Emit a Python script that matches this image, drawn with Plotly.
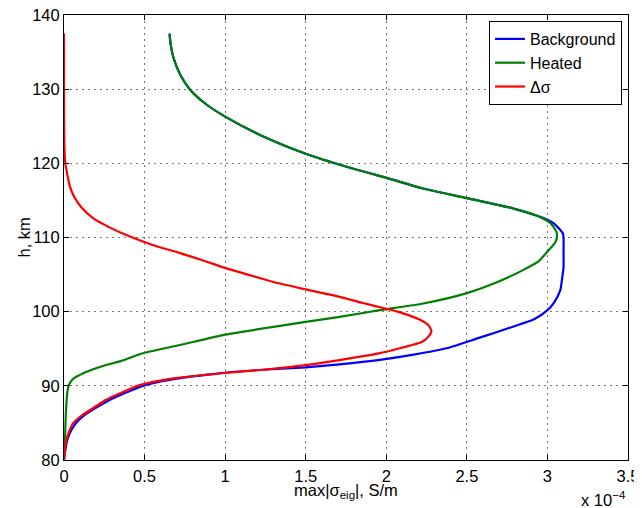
import plotly.graph_objects as go

# Heights (km) and conductivities (units of 1e-4 S/m)
h_bg = [80.0, 81.0, 82.0, 83.0, 84.0, 85.0, 86.0, 87.0, 88.0, 89.0, 90.0, 90.5, 91.0, 91.5, 91.8,
        92.2, 92.5, 92.9, 93.5, 94.2, 95.1, 96.5, 98.0, 99.0, 100.2, 101.2, 102.9, 104.3, 106.0,
        108.0, 110.0, 110.6, 111.0, 111.9, 112.4, 112.9, 113.9, 115.3, 116.6, 117.8, 119.5,
        121.3, 123.8, 126.3, 128.0, 130.0, 132.0, 134.2, 136.0, 137.5]
sig_bg = [0.0, 0.006, 0.013, 0.025, 0.045, 0.075, 0.125, 0.195, 0.275, 0.375, 0.49, 0.58, 0.71, 0.89, 1.01,
          1.26, 1.50, 1.71, 1.96, 2.17, 2.38, 2.58, 2.79, 2.92, 3.00, 3.04, 3.08, 3.09, 3.10,
          3.10, 3.10, 3.095, 3.08, 3.04, 3.00, 2.94, 2.79, 2.50, 2.23, 2.04, 1.76,
          1.50, 1.22, 1.00, 0.88, 0.78, 0.72, 0.68, 0.662, 0.655]

h_ht = [80.0, 82.0, 84.0, 86.0, 88.0, 89.0, 89.9, 90.5, 91.0, 91.7, 92.3, 92.8, 93.4, 94.4, 95.5, 96.9,
        98.65, 99.3, 100.2, 101.1, 102.5, 104.0, 105.4, 106.7, 108.1, 109.4, 110.4, 111.0, 111.9,
        112.9, 113.9, 115.3, 116.6, 117.8, 119.5, 121.3, 123.8, 126.3, 128.0, 130.0, 132.0,
        134.2, 136.0, 137.5]
sig_ht = [0.0, 0.005, 0.008, 0.011, 0.016, 0.02, 0.027, 0.04, 0.06, 0.12, 0.19, 0.26, 0.36, 0.49, 0.72, 1.00,
          1.51, 1.71, 1.96, 2.23, 2.50, 2.69, 2.83, 2.94, 3.00, 3.05, 3.06, 3.05, 3.02,
          2.94, 2.79, 2.50, 2.23, 2.04, 1.76, 1.50, 1.22, 1.00, 0.88, 0.78, 0.72,
          0.68, 0.662, 0.655]

h_d = [80.0, 81.4, 83.1, 84.0, 85.0, 86.0, 87.0, 88.1, 89.0, 90.1, 91.0, 91.7, 92.2, 92.8, 93.5,
       94.4, 95.1, 95.9, 96.6, 97.4, 98.2, 98.9, 100.0, 100.5, 101.2, 102.0, 103.0, 104.0, 105.0,
       105.9, 107.0, 107.9, 109.0, 110.3, 111.5, 112.6, 114.0, 115.7, 117.0, 118.0, 120.0,
       122.0, 125.0, 130.0, 137.5]
sig_d = [0.0, 0.005, 0.02, 0.035, 0.058, 0.11, 0.18, 0.26, 0.35, 0.47, 0.68, 0.98, 1.25, 1.50, 1.72,
         1.96, 2.09, 2.22, 2.26, 2.28, 2.26, 2.21, 2.07, 1.98, 1.85, 1.71, 1.50, 1.30, 1.14,
         1.00, 0.85, 0.72, 0.55, 0.39, 0.27, 0.18, 0.11, 0.058, 0.035, 0.025, 0.008,
         0.003, 0.001, 0.0, 0.0]

x_tickvals = [0, 0.5, 1, 1.5, 2, 2.5, 3, 3.5]
x_ticktext = ["0", "0.5", "1", "1.5", "2", "2.5", "3", "3.5"]
y_tickvals = [80, 90, 100, 110, 120, 130, 140]

FONT = "Liberation Sans, Arial, Helvetica, sans-serif"

fig = go.Figure()
fig.add_trace(go.Scatter(x=sig_bg, y=h_bg, mode="lines", name="Background",
                         line=dict(color="#0000FF", width=2.2, shape="spline", smoothing=0.6)))
fig.add_trace(go.Scatter(x=sig_ht, y=h_ht, mode="lines", name="Heated",
                         line=dict(color="#008000", width=2.2, shape="spline", smoothing=0.6)))
fig.add_trace(go.Scatter(x=sig_d, y=h_d, mode="lines", name="Δσ",
                         line=dict(color="#FF0000", width=2.2, shape="spline", smoothing=0.6)))

axis_common = dict(showline=True, linecolor="black", linewidth=1, mirror="ticks",
                   ticks="inside", ticklen=5, tickcolor="black", automargin=False,
                   ticklabeloverflow="allow",
                   showgrid=True, gridcolor="#777777", gridwidth=1, griddash="2px,4px",
                   zeroline=False, tickfont=dict(family=FONT, size=16.5, color="black"))

fig.update_layout(
    template="none",
    autosize=False,
    width=642, height=508,
    # page is shown with an 8px body offset; margins compensate for it
    margin=dict(l=56, r=22, t=7, b=56, pad=0),
    paper_bgcolor="white", plot_bgcolor="white",
    font=dict(family=FONT, size=16.5, color="black"),
    xaxis=dict(range=[0, 3.5], tickvals=x_tickvals, ticktext=x_ticktext,
               ticklabelstandoff=1, **axis_common),
    yaxis=dict(range=[80, 140], tickvals=y_tickvals, **axis_common),
    legend=dict(x=0.9894, y=0.9865, xanchor="right", yanchor="top",
                bgcolor="white", bordercolor="black", borderwidth=1,
                font=dict(family=FONT, size=16, color="black"),
                tracegroupgap=0, itemwidth=30),
    showlegend=True,
    annotations=[
        dict(text="max|σ<sub>eig</sub>|, S/m", xref="paper", yref="paper",
             x=0.5, y=(460 - 478.5) / 445, xanchor="center", yanchor="top",
             showarrow=False, font=dict(family=FONT, size=16.5)),
        dict(text="h, km", xref="paper", yref="paper", textangle=-90,
             x=(23 - 64) / 564, y=0.5, xanchor="center", yanchor="middle",
             showarrow=False, font=dict(family=FONT, size=16.5)),
        dict(text="x 10<sup>−4</sup>", xref="paper", yref="paper",
             x=1.0, y=(460 - 487) / 445, xanchor="right", yanchor="top",
             showarrow=False, font=dict(family=FONT, size=16.5)),
    ],
)

fig.write_html("out.html")
